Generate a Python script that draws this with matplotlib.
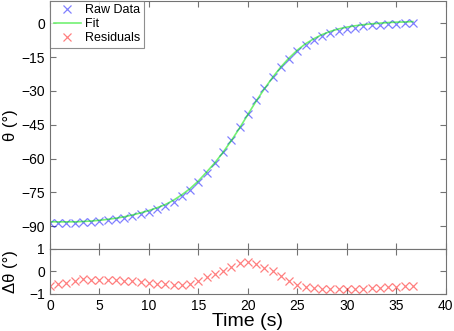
import matplotlib
matplotlib.use("Agg")
import matplotlib.pyplot as plt
import numpy as np

plt.rcParams['font.family'] = ['Liberation Sans', 'DejaVu Sans']

# sample times (s)
time = [0.00, 0.83, 1.67, 2.50, 3.33, 4.17, 5.00, 5.83, 6.67, 7.50,
        8.33, 9.17, 10.00, 10.83, 11.67, 12.50, 13.33, 14.17, 15.00, 15.83,
        16.67, 17.50, 18.33, 19.17, 20.00, 20.83, 21.67, 22.50, 23.33, 24.17,
        25.00, 25.83, 26.67, 27.50, 28.33, 29.17, 30.00, 30.83, 31.67, 32.50,
        33.33, 34.17, 35.00, 35.83, 36.67]

# measured angle (deg)
theta = [-88.6, -88.6, -88.5, -88.4, -88.2, -88.0, -87.7, -87.3, -86.8, -86.2,
         -85.4, -84.5, -83.5, -82.3, -80.9, -79.0, -76.6, -73.8, -70.3, -66.2,
         -61.9, -57.1, -51.8, -46.0, -40.0, -34.2, -28.9, -24.0, -19.6, -15.8,
         -12.5, -9.8, -7.6, -5.8, -4.4, -3.3, -2.5, -1.9, -1.4, -1.0,
         -0.7, -0.4, -0.2, -0.1, 0.1]

# residuals (deg)
resid = [-0.65, -0.58, -0.50, -0.41, -0.34, -0.36, -0.37, -0.40, -0.40, -0.42,
         -0.44, -0.47, -0.50, -0.54, -0.58, -0.60, -0.60, -0.55, -0.42, -0.25,
         -0.10, 0.04, 0.21, 0.38, 0.44, 0.34, 0.16, 0.00, -0.22, -0.43,
         -0.59, -0.70, -0.75, -0.77, -0.78, -0.78, -0.78, -0.77, -0.76, -0.74,
         -0.72, -0.70, -0.67, -0.65, -0.63]

fit = np.array(theta) - np.array(resid)

fig = plt.figure(figsize=(4.54, 3.31), dpi=100)
ax1 = fig.add_axes([0.110, 0.248, 0.872, 0.750])
ax2 = fig.add_axes([0.110, 0.112, 0.872, 0.136])

grey = '0.45'
for ax in (ax1, ax2):
    for s in ax.spines.values():
        s.set_color(grey)
        s.set_linewidth(0.8)
    ax.tick_params(direction='in', top=True, right=True, color=grey,
                   labelsize=10, length=4, width=0.8)
    ax.set_xlim(0, 40)
    ax.set_xticks(np.arange(0, 41, 5))

h1, = ax1.plot(time, theta, 'x', color=(0, 0, 1, 0.5), markersize=6, mew=0.9)
h2, = ax1.plot(time, fit, '-', color=(0, 0.9, 0, 0.55), lw=1.2)
h3, = ax2.plot(time, resid, 'x', color=(1, 0, 0, 0.5), markersize=6, mew=0.9)

ax1.set_ylim(-100, 10)
ax1.set_yticks(np.arange(-90, 1, 15))
ax1.tick_params(labelbottom=False)
ax1.set_ylabel('θ (°)', fontsize=12)

ax2.set_ylim(-1, 1)
ax2.set_yticks([-1, 0, 1])
ax2.set_ylabel('Δθ (°)', fontsize=12)
ax2.set_xlabel('Time (s)', fontsize=14, labelpad=0)

leg = ax1.legend([h1, h2, h3], ['Raw Data', 'Fit', 'Residuals'], loc='upper left',
                 fontsize=9, fancybox=False, borderaxespad=0.0, handlelength=2.2,
                 borderpad=0.3, labelspacing=0.15, handletextpad=0.3)
leg.get_frame().set_edgecolor(grey)
leg.get_frame().set_linewidth(0.8)

ax1.yaxis.set_label_coords(-0.080, 0.5)
ax2.yaxis.set_label_coords(-0.080, 0.5)

fig.savefig('out.png', dpi=100)
